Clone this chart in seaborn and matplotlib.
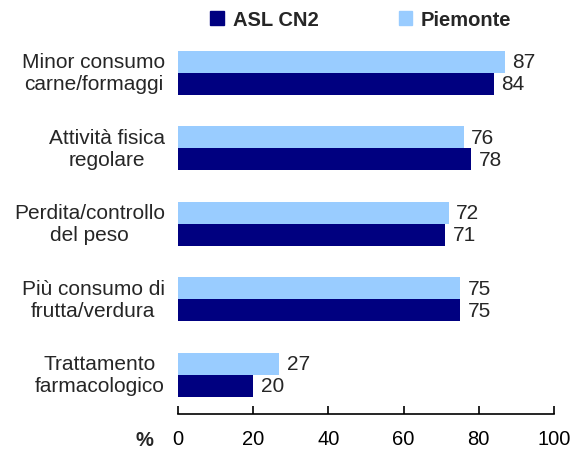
import matplotlib
matplotlib.use("Agg")
import matplotlib.pyplot as plt
import seaborn as sns
import pandas as pd
from matplotlib.patches import Patch

categories = ["Minor consumo\ncarne/formaggi", "Attività fisica\nregolare",
              "Perdita/controllo\ndel peso", "Più consumo di\nfrutta/verdura",
              "Trattamento\nfarmacologico"]
asl_cn2 = [84, 78, 71, 75, 20]
piemonte = [87, 76, 72, 75, 27]
series_names = ["Piemonte", "ASL CN2"]
x_ticks = [0, 20, 40, 60, 80, 100]

df = pd.DataFrame({
    "cat": categories * 2,
    "val": piemonte + asl_cn2,
    "serie": ["Piemonte"] * len(categories) + ["ASL CN2"] * len(categories),
})

sns.set_style("white")
plt.rcParams["font.family"] = ["Liberation Sans", "DejaVu Sans"]

fig = plt.figure(figsize=(5.73, 4.56), dpi=100)
ax = fig.add_axes([0.3106, 0.0899, 0.6562, 0.8311])
palette = {"Piemonte": "#99CCFF", "ASL CN2": "#000080"}
sns.barplot(data=df, y="cat", x="val", hue="serie", hue_order=series_names,
            palette=palette, orient="h", width=0.58, ax=ax, legend=False,
            saturation=1, linewidth=0)

ax.set_xlim(0, 100)
ax.set_ylim(4.52, -0.5)
ax.set_xticks(x_ticks)
ax.set_xticklabels([str(t) for t in x_ticks], fontsize=14.5)
ax.set_xlabel("")
ax.set_ylabel("")
ax.set_yticks([])
for i, c in enumerate(categories):
    ax.text(-0.035, i, c, transform=ax.get_yaxis_transform(), ha="right",
            va="center", multialignment="center", fontsize=15,
            linespacing=1.2)

for s in ["top", "right", "left"]:
    ax.spines[s].set_visible(False)
ax.spines["bottom"].set_linewidth(1.2)
ax.spines["bottom"].set_color("black")
ax.tick_params(axis="x", direction="in", length=6, width=1.2, pad=11,
               bottom=True, colors="black")

for cont in ax.containers:
    for bar in cont:
        w = bar.get_width()
        ax.text(w + 2, bar.get_y() + bar.get_height() / 2, f"{w:.0f}",
                va="center", ha="left", fontsize=15)

ax.text(-0.088, -0.066, "%", transform=ax.transAxes, ha="center", va="center",
        fontsize=14.5, fontweight="bold")

handles = [Patch(color="#000080", label="ASL CN2"),
           Patch(color="#99CCFF", label="Piemonte")]
fig.legend(handles=handles, loc="center", bbox_to_anchor=(0.63, 0.955),
           ncol=2, frameon=False, prop={"weight": "bold", "size": 14.5},
           handlelength=0.65, handleheight=0.65, handletextpad=0.45,
           columnspacing=4.0)

fig.savefig("out.png", dpi=100)
